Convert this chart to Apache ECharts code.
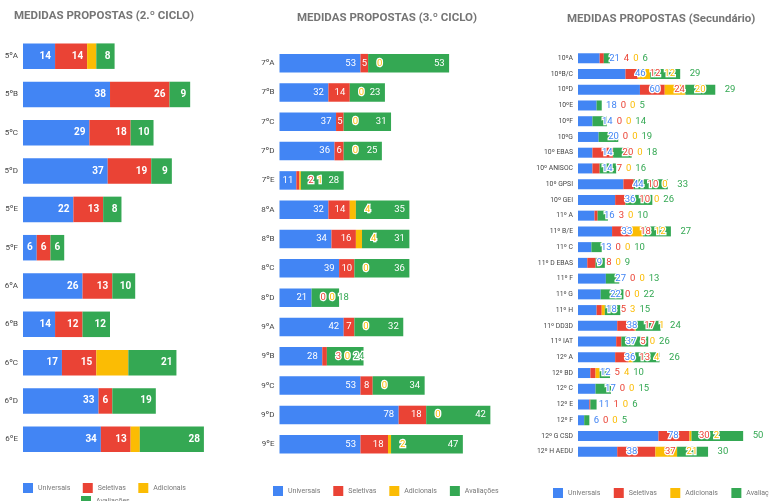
<!DOCTYPE html>
<html>
<head>
<meta charset="utf-8">
<title>Medidas propostas</title>
<script src="https://cdn.jsdelivr.net/npm/echarts@6/dist/echarts.min.js"></script>
<style>
  html, body { margin: 0; padding: 0; background: #fff; }
  #chart { width: 769px; height: 501px; }
</style>
</head>
<body>
<div id="chart"></div>
<script>
// Measure types, in stacking order
const seriesNames = ['Universais', 'Seletivas', 'Adicionais', 'Avaliações'];
const seriesColors = ['#4285F4', '#EA4335', '#FBBC04', '#34A853'];

// 2.º ciclo
const turmas2 = ['5ºA', '5ºB', '5ºC', '5ºD', '5ºE', '5ºF', '6ºA', '6ºB', '6ºC', '6ºD', '6ºE'];
const universais2 = [14, 38, 29, 37, 22, 6, 26, 14, 17, 33, 34];
const seletivas2 = [14, 26, 18, 19, 13, 6, 13, 12, 15, 6, 13];
const adicionais2 = [4, 0, 0, 0, 0, 0, 0, 0, 14, 0, 4];
const avaliacoes2 = [8, 9, 10, 9, 8, 6, 10, 12, 21, 19, 28];

// 3.º ciclo
const turmas3 = ['7ºA', '7ºB', '7ºC', '7ºD', '7ºE', '8ºA', '8ºB', '8ºC', '8ºD', '9ºA', '9ºB', '9ºC', '9ºD', '9ºE'];
const universais3 = [53, 32, 37, 36, 11, 32, 34, 39, 21, 42, 28, 53, 78, 53];
const seletivas3 = [5, 14, 5, 6, 2, 14, 16, 10, 0, 7, 3, 8, 18, 18];
const adicionais3 = [0, 0, 0, 0, 1, 4, 4, 0, 0, 0, 0, 0, 0, 2];
const avaliacoes3 = [53, 23, 31, 25, 28, 35, 31, 36, 18, 32, 24, 34, 42, 47];

// Secundário
const turmasSec = ['10ºA', '10ºB/C', '10ºD', '10ºE', '10ºF', '10ºG', '10º EBAS', '10º ANISOC', '10º GPSI', '10º GEI',
  '11º A', '11º B/E', '11º C', '11º D EBAS', '11º F', '11º G', '11º H', '11º DD3D', '11º IAT',
  '12º A', '12º BD', '12º C', '12º E', '12º F', '12º G CSD', '12º H AEDU'];
const universaisSec = [21, 46, 60, 18, 14, 20, 14, 14, 44, 36, 16, 33, 13, 9, 27, 22, 18, 38, 37, 36, 12, 17, 11, 6, 78, 38];
const seletivasSec = [4, 12, 24, 0, 0, 0, 20, 7, 10, 10, 3, 18, 0, 8, 0, 0, 5, 17, 5, 13, 5, 0, 1, 0, 30, 37];
const adicionaisSec = [0, 12, 20, 0, 0, 0, 0, 0, 0, 0, 0, 12, 0, 0, 0, 0, 3, 1, 0, 4, 4, 0, 0, 0, 2, 21];
const avaliacoesSec = [6, 29, 29, 5, 14, 19, 18, 16, 33, 26, 10, 27, 10, 9, 13, 22, 15, 24, 26, 26, 10, 15, 6, 5, 50, 30];

const FONT = 'Roboto';

// One panel per school cycle: layout plus the data-label rules used in it
const panels = [
  {
    title: 'MEDIDAS PROPOSTAS (2.º CICLO)', titleLeft: 14, titleTop: 10,
    cats: turmas2, data: [universais2, seletivas2, adicionais2, avaliacoes2],
    grid: { left: 23, top: 37, width: 229, height: 421.4 }, max: 100, barWidth: 25.5,
    catFont: 8, inside: true, hide: [false, false, true, false],
    font: 10, weight: 'bold', pad: 4, gap: 2, off: 9,
    legends: [
      { names: ['Universais', 'Seletivas', 'Adicionais'], left: 23, top: 483, gap: 12.5 },
      { names: ['Avaliações'], left: 81, top: 496, gap: 12 }
    ]
  },
  {
    title: 'MEDIDAS PROPOSTAS (3.º CICLO)', titleLeft: 297, titleTop: 12,
    cats: turmas3, data: [universais3, seletivas3, adicionais3, avaliacoes3],
    grid: { left: 279.5, top: 48.5, width: 229.2, height: 410.4 }, max: 150, barWidth: 18.5,
    catFont: 8, inside: true, hide: [false, false, false, false],
    font: 9.5, weight: 'normal', pad: 4.5, gap: 3.5, off: 9,
    legends: [
      { names: seriesNames, left: 273, top: 486, gap: 13 }
    ]
  },
  {
    title: 'MEDIDAS PROPOSTAS (Secundário)', titleLeft: 567, titleTop: 13,
    cats: turmasSec, data: [universaisSec, seletivasSec, adicionaisSec, avaliacoesSec],
    grid: { left: 578, top: 50.4, width: 185.8, height: 409.2 }, max: 180, barWidth: 10,
    catFont: 6.8, inside: false, hide: [false, false, false, false],
    font: 9.5, weight: 'normal', pad: 4, gap: 4, off: 9.5,
    legends: [
      { names: seriesNames, left: 553, top: 488, gap: 13.5 }
    ]
  }
];

const chart = echarts.init(document.getElementById('chart'), null, { renderer: 'canvas' });

function buildOption(labelSets) {
  const option = {
    animation: false,
    backgroundColor: '#ffffff',
    textStyle: { fontFamily: FONT },
    title: [], grid: [], xAxis: [], yAxis: [], legend: [], series: []
  };
  panels.forEach((p, pi) => {
    option.title.push({
      text: p.title, left: p.titleLeft, top: p.titleTop, padding: 0,
      textStyle: { fontFamily: FONT, fontSize: 11.5, fontWeight: 'bold', color: '#757575' }
    });
    option.grid.push(Object.assign({ containLabel: false }, p.grid));
    option.xAxis.push({
      type: 'value', gridIndex: pi, min: 0, max: p.max, show: false,
      splitLine: { show: false }
    });
    option.yAxis.push({
      type: 'category', gridIndex: pi, data: p.cats, inverse: true,
      axisLine: { show: false }, axisTick: { show: false }, splitLine: { show: false },
      axisLabel: { fontFamily: FONT, fontSize: p.catFont, color: '#444', margin: 5 }
    });
    p.legends.forEach(lg => {
      option.legend.push({
        data: lg.names, left: lg.left, top: lg.top, width: 400, padding: 0,
        orient: 'horizontal', icon: 'rect', itemWidth: 10, itemHeight: 10, itemGap: lg.gap,
        selectedMode: false,
        textStyle: { fontFamily: FONT, fontSize: 7, color: '#777', padding: [0, 0, 0, 0] }
      });
    });
    p.data.forEach((vals, s) => {
      option.series.push({
        type: 'bar', name: seriesNames[s], stack: 'panel' + pi,
        xAxisIndex: pi, yAxisIndex: pi, barWidth: p.barWidth,
        itemStyle: { color: seriesColors[s] },
        emphasis: { disabled: true },
        label: { show: false },
        data: vals.map((v, i) => labelSets ? { value: v, label: labelSets[pi][s][i] } : v)
      });
    });
  });
  return option;
}

// First pass: axes and bars, so the value scales can be queried
chart.setOption(buildOption(null));

const measureCtx = document.createElement('canvas').getContext('2d');
function textWidth(txt, p) {
  measureCtx.font = p.weight + ' ' + p.font + 'px ' + FONT;
  return measureCtx.measureText(txt).width;
}

// Place each segment's value label: inside the bar when it fits,
// otherwise after the segment, pushed right past the previous label
const labelSets = panels.map((p, pi) => {
  const sets = p.data.map(() => []);
  const toPx = v => chart.convertToPixel({ xAxisIndex: pi }, v);
  p.cats.forEach((c, i) => {
    let cum = 0;
    let prevRight = -Infinity;
    p.data.forEach((vals, s) => {
      const v = vals[i];
      const x0 = toPx(cum);
      cum += v;
      const x1 = toPx(cum);
      const w = x1 - x0;
      const txt = String(v);
      const tw = textWidth(txt, p);
      const base = { show: true, fontFamily: FONT, fontSize: p.font, fontWeight: p.weight };
      if (p.hide[s]) { sets[s].push({ show: false }); return; }
      const fits = p.inside && w >= tw + 2 * p.pad;
      if (fits && x1 - p.pad - tw >= prevRight + p.gap) {
        sets[s].push(Object.assign(base, { position: 'insideRight', distance: p.pad, color: '#fff' }));
        prevRight = x1 - p.pad;
        return;
      }
      if (p.inside && w >= tw + 2 && x0 + (w - tw) / 2 >= prevRight + p.gap) {
        sets[s].push(Object.assign(base, { position: 'inside', color: '#fff' }));
        prevRight = x0 + (w + tw) / 2;
        return;
      }
      const left = fits ? prevRight + p.gap : Math.max(x1 + p.off, prevRight + p.gap);
      sets[s].push(Object.assign(base, {
        position: [left - x0, '50%'], align: 'left', verticalAlign: 'middle',
        color: seriesColors[s], textBorderColor: '#fff', textBorderWidth: 2.5
      }));
      prevRight = left + tw;
    });
  });
  return sets;
});

chart.setOption(buildOption(labelSets), true);
</script>
</body>
</html>
